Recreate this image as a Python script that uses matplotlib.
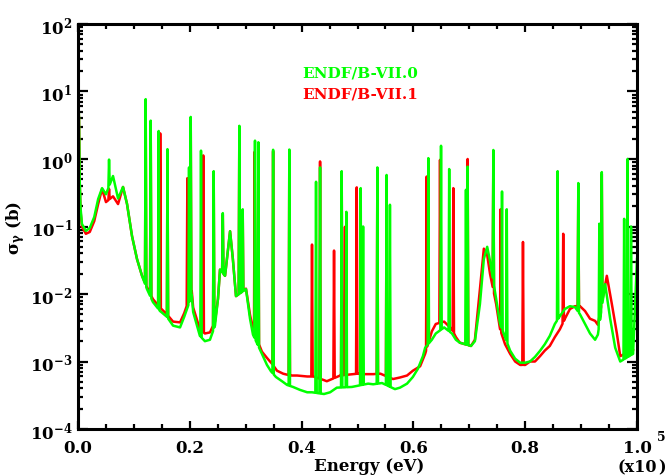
import matplotlib
matplotlib.use("Agg")
import matplotlib.pyplot as plt
from matplotlib.ticker import FixedLocator, MultipleLocator, LogLocator, FuncFormatter, NullFormatter
import numpy as np

plt.rcParams['font.family'] = 'DejaVu Serif'
plt.rcParams['font.weight'] = 'bold'
plt.rcParams['mathtext.fontset'] = 'dejavuserif'

# energy in units of 1e5 eV, capture cross section in barns
# smooth part of each evaluation (background + broad resonance wings)
green_base_e = [0.0, 0.0018, 0.003, 0.0045, 0.007, 0.014, 0.021, 0.029, 0.036, 0.043, 0.050,
                0.0626, 0.0716, 0.0805, 0.0877, 0.0966, 0.1055, 0.1145, 0.1234, 0.134, 0.1467,
                0.159, 0.170, 0.1825, 0.190, 0.2035, 0.206, 0.218, 0.227, 0.236, 0.245,
                0.2504, 0.254, 0.263, 0.272, 0.277, 0.2826, 0.3005, 0.3077, 0.313, 0.329,
                0.338, 0.345, 0.354, 0.365, 0.374, 0.3846, 0.397, 0.410, 0.4186, 0.440,
                0.451, 0.463, 0.490, 0.519, 0.528, 0.5438, 0.567, 0.576, 0.5886, 0.599,
                0.608, 0.617, 0.621, 0.633, 0.640, 0.655, 0.669, 0.676, 0.683, 0.703,
                0.710, 0.719, 0.726, 0.732, 0.737, 0.748, 0.755, 0.773, 0.782, 0.791,
                0.800, 0.8086, 0.8175, 0.8265, 0.835, 0.844, 0.853, 0.862, 0.871, 0.880,
                0.889, 0.898, 0.907, 0.916, 0.925, 0.930, 0.943, 0.952, 0.961, 0.970,
                0.993, 1.0]
green_base_xs = [9.2, 4.0, 0.5, 0.19, 0.109, 0.086, 0.095, 0.138, 0.255, 0.37, 0.30,
                 0.56, 0.26, 0.385, 0.215, 0.072, 0.033, 0.0186, 0.0118, 0.0076, 0.0056,
                 0.0046, 0.0034, 0.0032, 0.0046, 0.0095, 0.0054, 0.0024, 0.0020, 0.0021, 0.0034,
                 0.0085, 0.023, 0.0186, 0.085, 0.033, 0.0093, 0.0118, 0.0043, 0.0025, 0.0013,
                 0.00089, 0.00072, 0.00059, 0.00051, 0.00045, 0.00042, 0.00038, 0.00035, 0.00035, 0.00033,
                 0.00035, 0.00041, 0.00042, 0.00047, 0.00046, 0.00048, 0.00039, 0.00041, 0.00047, 0.00059,
                 0.00078, 0.0012, 0.0016, 0.0021, 0.0026, 0.0032, 0.0026, 0.0021, 0.0019, 0.0017,
                 0.0020, 0.0071, 0.033, 0.050, 0.031, 0.0085, 0.0036, 0.00145, 0.0011, 0.00096,
                 0.00096, 0.0010, 0.00117, 0.00144, 0.0018, 0.0024, 0.0036, 0.0047, 0.0060, 0.0066,
                 0.0064, 0.0050, 0.0036, 0.0026, 0.0021, 0.0025, 0.014, 0.0043, 0.0016, 0.0010,
                 0.0013, 0.033]

red_base_e = [0.0, 0.0018, 0.003, 0.0045, 0.007, 0.014, 0.021, 0.029, 0.036, 0.043, 0.050,
              0.0626, 0.0716, 0.0805, 0.0877, 0.0966, 0.1055, 0.1145, 0.1234, 0.134, 0.1467,
              0.159, 0.170, 0.1825, 0.190, 0.2035, 0.206, 0.218, 0.227, 0.236, 0.245,
              0.2504, 0.254, 0.263, 0.272, 0.277, 0.2826, 0.3005, 0.3077, 0.313, 0.329,
              0.338, 0.347, 0.356, 0.367, 0.380, 0.392, 0.410, 0.421, 0.440, 0.445,
              0.469, 0.484, 0.500, 0.513, 0.528, 0.541, 0.5635, 0.576, 0.5886, 0.599,
              0.612, 0.621, 0.633, 0.640, 0.655, 0.669, 0.676, 0.683, 0.703, 0.710,
              0.719, 0.726, 0.732, 0.737, 0.748, 0.755, 0.764, 0.773, 0.782, 0.791,
              0.800, 0.8086, 0.8175, 0.8265, 0.835, 0.844, 0.853, 0.862, 0.871, 0.880,
              0.889, 0.898, 0.907, 0.916, 0.925, 0.930, 0.946, 0.955, 0.964, 0.970,
              0.993]
red_base_xs = [9.2, 3.8, 0.45, 0.17, 0.1, 0.078, 0.083, 0.12, 0.215, 0.36, 0.23,
               0.28, 0.215, 0.385, 0.215, 0.072, 0.033, 0.0186, 0.0125, 0.0084, 0.0063,
               0.005, 0.0039, 0.0038, 0.0052, 0.011, 0.0063, 0.003, 0.0026, 0.0027, 0.0039,
               0.0085, 0.023, 0.0186, 0.085, 0.033, 0.0093, 0.012, 0.0049, 0.003, 0.0014,
               0.00113, 0.00093, 0.00073, 0.00066, 0.00062, 0.00062, 0.0006, 0.0006, 0.00053, 0.00051,
               0.00062, 0.00064, 0.00066, 0.00065, 0.00065, 0.00066, 0.00055, 0.00058, 0.00062, 0.00073,
               0.00085, 0.0013, 0.0028, 0.0036, 0.0039, 0.0030, 0.0023, 0.0019, 0.0017, 0.0021,
               0.0118, 0.047, 0.038, 0.020, 0.0071, 0.003, 0.0018, 0.0013, 0.001, 0.00089,
               0.00089, 0.0010, 0.0010, 0.0012, 0.00145, 0.0017, 0.0023, 0.0030, 0.0043, 0.0060,
               0.0066, 0.0066, 0.0056, 0.0043, 0.0040, 0.0035, 0.0186, 0.0071, 0.0026, 0.0012,
               0.0015]

# narrow resolved resonances: energy and peak cross section
green_peak_e = [0.0555, 0.121, 0.130, 0.1443, 0.160, 0.1986, 0.2016, 0.220, 0.2427, 0.259,
                0.2886, 0.2946, 0.3166, 0.3226, 0.349, 0.378, 0.4258, 0.433, 0.4717, 0.480,
                0.5057, 0.510, 0.5355, 0.552, 0.558, 0.6267, 0.6494, 0.664, 0.694, 0.697,
                0.743, 0.7585, 0.767, 0.858, 0.895, 0.9326, 0.937, 0.977, 0.983, 0.9893]
green_peak_xs = [0.98, 7.7, 3.7, 2.6, 1.4, 0.75, 4.2, 1.33, 0.66, 0.158,
                 3.1, 0.18, 1.87, 1.77, 1.37, 1.38, 0.46, 0.75, 0.66, 0.165,
                 0.37, 0.10, 0.75, 0.58, 0.21, 1.03, 1.57, 0.71, 0.35, 0.77,
                 1.36, 0.33, 0.18, 0.66, 0.44, 0.11, 0.64, 0.13, 1.0, 0.10]

red_peak_e = [0.0555, 0.121, 0.130, 0.147, 0.160, 0.1956, 0.2016, 0.224, 0.2427, 0.259,
              0.2886, 0.2946, 0.316, 0.3226, 0.349, 0.378, 0.4186, 0.433, 0.458, 0.4717,
              0.4776, 0.4986, 0.5355, 0.552, 0.6238, 0.6476, 0.6714, 0.697, 0.743, 0.756,
              0.796, 0.868, 0.895, 0.937, 0.983]
red_peak_xs = [0.36, 7.5, 3.5, 2.4, 1.35, 0.52, 4.0, 1.13, 0.6, 0.15,
               3.0, 0.17, 1.28, 1.7, 1.3, 1.3, 0.054, 0.92, 0.044, 0.6,
               0.099, 0.38, 0.7, 0.55, 0.55, 0.97, 0.37, 1.0, 1.0, 0.18,
               0.059, 0.078, 0.4, 0.6, 0.47]

x_ticks = [0.0, 0.2, 0.4, 0.6, 0.8, 1.0]
x_ticklabels = ['0.0', '0.2', '0.4', '0.6', '0.8', '1.0']

GREEN = '#00ff00'
RED = '#ff0000'
HALF_WIDTH = 0.0012


def spectrum(base_e, base_xs, peak_e, peak_xs):
    assert len(base_e) == len(base_xs) and len(peak_e) == len(peak_xs)
    e = list(base_e)
    xs = list(base_xs)
    log_base = np.log10(base_xs)
    for ep, sp in zip(peak_e, peak_xs):
        # each resonance rises from the smooth curve as a thin spike
        feet = 10 ** np.interp([ep - HALF_WIDTH, ep + HALF_WIDTH], base_e, log_base)
        e += [ep - HALF_WIDTH, ep, ep + HALF_WIDTH]
        xs += [feet[0], sp, feet[1]]
    order = np.argsort(e, kind='stable')
    return np.asarray(e)[order], np.asarray(xs)[order]


fig = plt.figure(figsize=(6.68, 4.77), dpi=100)
ax = fig.add_axes([0.1168, 0.0985, 0.8368, 0.8491])

e_red, xs_red = spectrum(red_base_e, red_base_xs, red_peak_e, red_peak_xs)
e_green, xs_green = spectrum(green_base_e, green_base_xs, green_peak_e, green_peak_xs)
ax.plot(e_red, xs_red, color=RED, lw=1.8)
ax.plot(e_green, xs_green, color=GREEN, lw=1.8)

ax.set_yscale('log')
ax.set_xlim(0, 1.0)
ax.set_ylim(1e-4, 1e2)

ax.xaxis.set_major_locator(FixedLocator(x_ticks))
ax.set_xticklabels(x_ticklabels)
ax.xaxis.set_minor_locator(MultipleLocator(0.05))
ax.yaxis.set_major_locator(LogLocator(base=10, numticks=10))
ax.yaxis.set_minor_locator(LogLocator(base=10, subs=np.arange(2, 10), numticks=10))
ax.yaxis.set_minor_formatter(NullFormatter())
ax.yaxis.set_major_formatter(FuncFormatter(
    lambda v, _: r'$\mathbf{10^{%d}}$' % int(round(np.log10(v)))))

ax.tick_params(which='both', direction='in', top=True, right=True, width=1.6,
               labelsize=12, colors='black')
ax.tick_params(axis='x', which='major', length=6, pad=7)
ax.tick_params(axis='x', which='minor', length=3.5)
ax.tick_params(axis='y', which='major', length=7, pad=4)
ax.tick_params(axis='y', which='minor', length=3.5)
for sp in ax.spines.values():
    sp.set_linewidth(2.2)

ax.set_xlabel('Energy (eV)', fontsize=12, fontweight='bold')
ax.xaxis.set_label_coords(0.52, -0.068)
ax.set_ylabel(r'$\mathbf{\sigma_{\gamma}}$ (b)', fontsize=12, fontweight='bold')
ax.yaxis.set_label_coords(-0.092, 0.5)

# axis multiplier under the last energy tick
fig.text(657 / 668, 1 - 468 / 477, '(x10', ha='right', va='center',
         fontsize=11.5, fontweight='bold')
fig.text(661 / 668, 1 - 438 / 477, '5', ha='center', va='center',
         fontsize=9, fontweight='bold')
fig.text(658 / 668, 1 - 468 / 477, ')', ha='left', va='center',
         fontsize=11.5, fontweight='bold')

ax.text(0.402, 0.881, 'ENDF/B-VII.0', color=GREEN, transform=ax.transAxes,
        fontsize=11, fontweight='bold', va='center')
ax.text(0.402, 0.828, 'ENDF/B-VII.1', color=RED, transform=ax.transAxes,
        fontsize=11, fontweight='bold', va='center')

fig.savefig('out.png', dpi=100)
